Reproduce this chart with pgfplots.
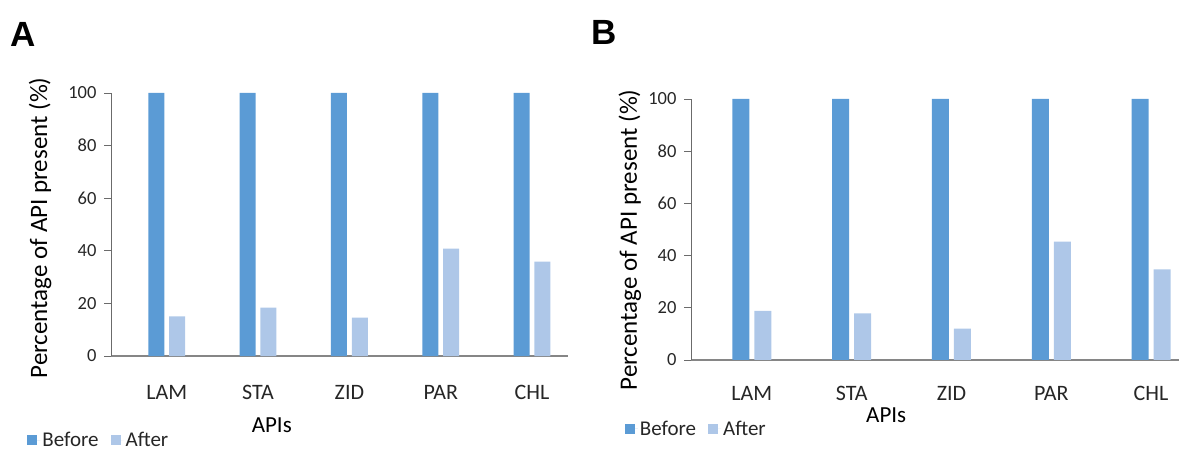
\documentclass[border=0pt]{standalone}
\usepackage{fontspec}
\setmainfont{Carlito}
\newfontfamily\arialb{Liberation Sans}
\usepackage{pgfplots}
\pgfplotsset{compat=1.18}
\definecolor{before}{HTML}{5B9BD5}
\definecolor{after}{HTML}{AEC7E8}
\definecolor{axisgray}{HTML}{868686}
\definecolor{txt}{HTML}{262626}

\pgfplotsset{mystyle/.style={
  scale only axis, ybar,
  ymin=0, ymax=100, ytick={0,20,...,100},
  xtick={0,...,4}, xticklabels={LAM,STA,ZID,PAR,CHL},
  enlargelimits=false,
  axis x line=bottom, axis y line=left,
  x axis line style={-, axisgray, line width=1.6pt},
  y axis line style={-, axisgray!80!black, line width=0.9pt},
  xtick style={draw=none},
  ytick style={axisgray!80!black, line width=0.9pt},
  tick align=outside, major tick length=7pt,
  /pgf/number format/assume math mode=true,
  yticklabel style={font=\fontsize{18.5}{22}\selectfont, text=txt, xshift=-4pt},
  xticklabel style={font=\fontsize{22}{26}\selectfont, text=txt},
  ylabel style={font=\fontsize{25}{29}\selectfont, text=black},
  xlabel style={font=\fontsize{23}{27}\selectfont, text=black},
  legend style={draw=none, fill=none, font=\fontsize{21}{24}\selectfont, text=txt,
    legend columns=2, anchor=west,
    /tikz/every even column/.append style={column sep=10pt}},
  legend image code/.code={\fill[#1] (0pt,-5pt) rectangle (10pt,5pt); \path (0pt,0pt) -- (13pt,0pt);},
  ylabel={Percentage of API present (\%)},
  xlabel={APIs},
}}

\begin{document}
\begin{tikzpicture}
\useasboundingbox (0,0) rectangle (1179pt,453pt);
\node[font=\arialb\bfseries\fontsize{35}{38}\selectfont] at (23pt,418.5pt) {A};
\node[font=\arialb\bfseries\fontsize{35}{38}\selectfont] at (604pt,421pt) {B};

\begin{axis}[mystyle,
  at={(111pt,97pt)}, anchor=south west, width=456.7pt, height=263pt,
  xmin=-0.61, xmax=4.39,
  xticklabel style={yshift=-18.4pt},
  ylabel style={at={(axis description cs:-0.155,0.487)}, anchor=center, rotate=0},
  xlabel style={at={(axis description cs:0.352,-0.264)}, anchor=center},
  legend style={at={(axis description cs:-0.19,-0.32)}},
]
\addplot[fill=before, draw=none, bar width=16pt, bar shift=-10.4pt]
  coordinates {(0,100) (1,100) (2,100) (3,100) (4,100)};
\addplot[fill=after, draw=none, bar width=16pt, bar shift=10.4pt]
  coordinates {(0,15.1) (1,18.4) (2,14.6) (3,40.8) (4,35.9)};
\legend{Before, After}
\end{axis}

\begin{axis}[mystyle,
  at={(691pt,93pt)}, anchor=south west, width=488pt, height=261pt,
  xmin=-0.61, xmax=4.28,
  xticklabel style={yshift=-16pt},
  ylabel style={at={(axis description cs:-0.125,0.46)}, anchor=center},
  xlabel style={at={(axis description cs:0.40,-0.21)}, anchor=center},
  legend style={at={(axis description cs:-0.142,-0.264)}},
]
\addplot[fill=before, draw=none, bar width=17pt, bar shift=-11pt]
  coordinates {(0,100) (1,100) (2,100) (3,100) (4,100)};
\addplot[fill=after, draw=none, bar width=17pt, bar shift=11pt]
  coordinates {(0,18.8) (1,17.9) (2,12.0) (3,45.4) (4,34.7)};
\legend{Before, After}
\end{axis}
\end{tikzpicture}
\end{document}
